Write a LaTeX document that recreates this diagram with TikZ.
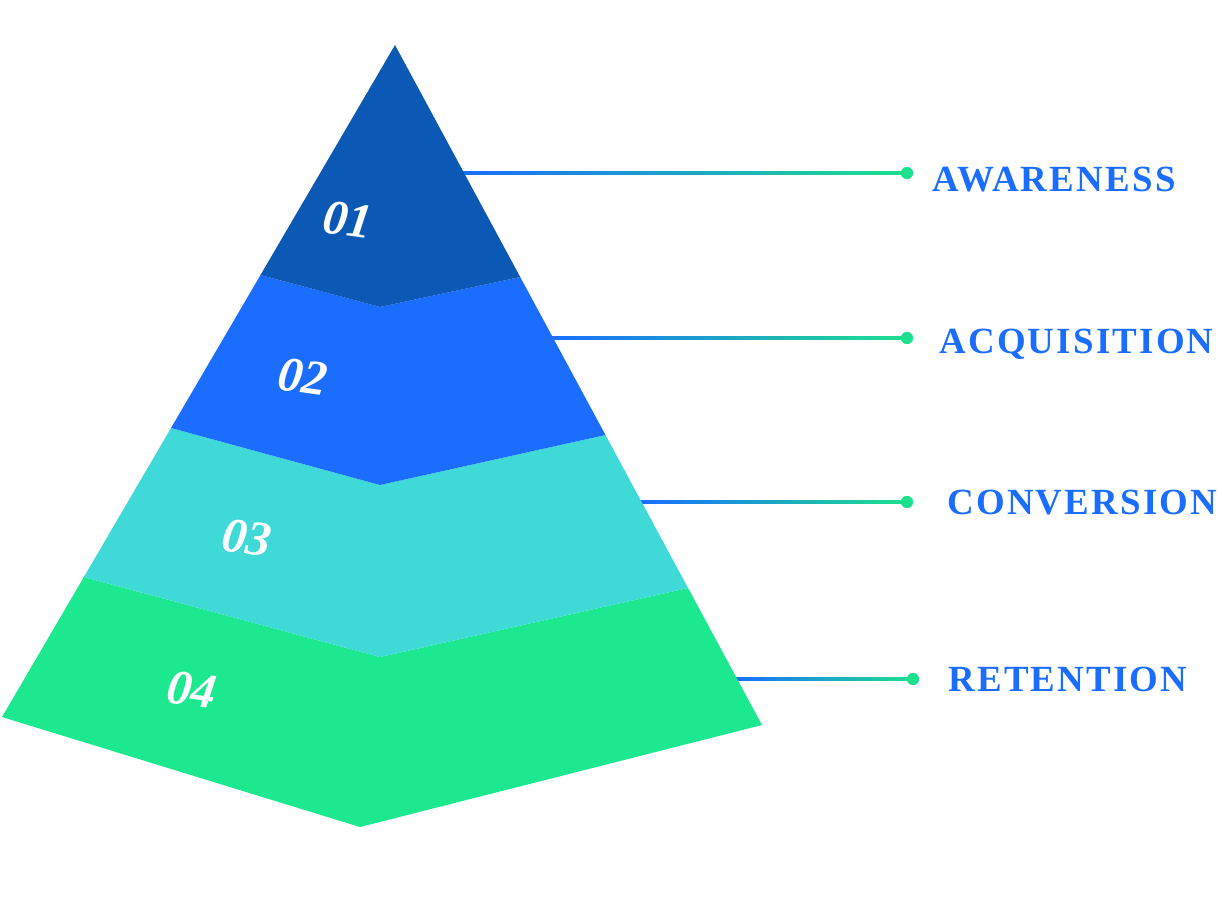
\documentclass[tikz,border=0pt]{standalone}
\usepackage{fontspec}
\setmainfont{Liberation Serif}
\definecolor{fnnavy}{RGB}{12,89,181}
\definecolor{fnblue}{RGB}{26,109,255}
\definecolor{fnteal}{RGB}{63,218,216}
\definecolor{fngreen}{RGB}{28,232,143}
\definecolor{fndot}{RGB}{29,224,141}
\usetikzlibrary{positioning,calc}

\begin{document}
\begin{tikzpicture}[x=0.02cm,y=-0.02cm,
  stagelabel/.style={anchor=base west,inner sep=0pt,text=fnblue,
    font=\fontsize{21}{25}\selectfont\bfseries\addfontfeature{LetterSpace=6}},
  stagenum/.style={inner sep=0pt,text=white,rotate=-8,
    font=\fontsize{28}{32}\selectfont\bfseries\itshape},
  stagedot/.style={circle,fill=fndot,inner sep=0pt,minimum size=0.24cm},
  stageline/.style={left color=fnblue,right color=fndot}
]
  \useasboundingbox (0,0) rectangle (1222,916);

  % outline of the pyramid
  \coordinate (apex) at (395,45);
  \coordinate (bl) at (2,717);
  \coordinate (bm) at (360,827);
  \coordinate (br) at (762,725);
  \coordinate (l1) at ($(apex)!0.3423!(bl)$);
  \coordinate (l2) at ($(apex)!0.5699!(bl)$);
  \coordinate (l3) at ($(apex)!0.7917!(bl)$);
  \coordinate (r1) at ($(apex)!0.3412!(br)$);
  \coordinate (r2) at ($(apex)!0.5735!(br)$);
  \coordinate (r3) at ($(apex)!0.7985!(br)$);
  \coordinate (m1) at (380,307);
  \coordinate (m2) at (380,485);
  \coordinate (m3) at (380,657);

  % connectors
  \coordinate (e1) at ($(apex)!0.1882!(br)$);
  \coordinate (e2) at ($(apex)!0.4309!(br)$);
  \coordinate (e3) at ($(apex)!0.6721!(br)$);
  \coordinate (e4) at ($(apex)!0.9324!(br)$);
  \node[stagedot] (d1) at (907,173) {};
  \node[stagedot] (d2) at (907,338) {};
  \node[stagedot] (d3) at (907,502) {};
  \node[stagedot] (d4) at (913,679) {};
  \foreach \i in {1,...,4}
    \shade[stageline] ($(e\i)+(-4,1.3)$) rectangle ($(d\i.center)+(0,-1.3)$);
  \foreach \i in {1,...,4}
    \fill[fndot] (d\i) circle (0.12cm);

  % bands
  \fill[fngreen] (l3) -- (m3) -- (r3) -- (br) -- (bm) -- (bl) -- cycle;
  \fill[fnteal] (l2) -- (m2) -- (r2) -- (r3) -- (m3) -- (l3) -- cycle;
  \fill[fnblue] (l1) -- (m1) -- (r1) -- (r2) -- (m2) -- (l2) -- cycle;
  \fill[fnnavy] (apex) -- (r1) -- (m1) -- (l1) -- cycle;

  \node[stagenum] (n1) at (348,220) {01};
  \node[stagenum] (n2) at (303,377) {02};
  \node[stagenum] (n3) at (247,538) {03};
  \node[stagenum] (n4) at (192,690) {04};

  \node[stagelabel] (s1) at (932,191) {AWARENESS};
  \node[stagelabel] (s2) at (939,353) {ACQUISITION};
  \node[stagelabel] (s3) at (947,514) {CONVERSION};
  \node[stagelabel] (s4) at (948,691) {RETENTION};
\end{tikzpicture}
\end{document}
